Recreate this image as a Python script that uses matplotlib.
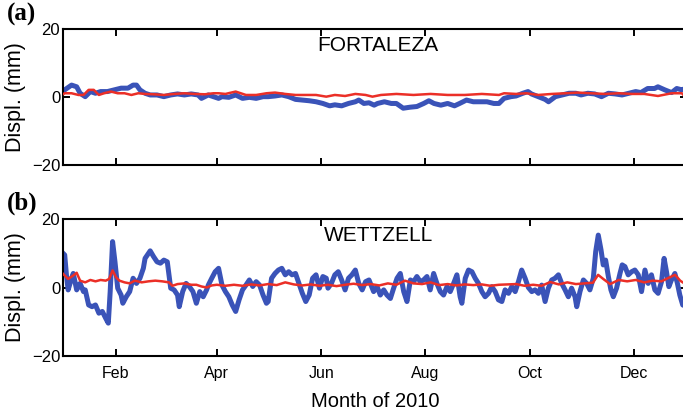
import numpy as np
import matplotlib
matplotlib.use("Agg")
import matplotlib.pyplot as plt

# ---------------- data (day of year 2010, displacement in mm) ----------------
fort_blue_day = [0, 1, 5, 8, 10, 13, 16, 19, 22, 26, 30, 34, 38, 41, 43, 45, 48, 51, 55, 59, 63, 67, 71, 75, 79, 81, 85, 88, 91,
                 93, 97, 101, 105, 109, 113, 117, 120, 124, 128, 132, 136, 140, 144, 148, 152, 156, 159, 163, 167, 171, 173, 176, 179, 182,
                 184, 188, 192, 195, 199, 203, 207, 211, 214, 217, 221, 225, 229, 232, 236, 240, 244, 248, 252, 255, 258, 262, 265, 269, 272,
                 274, 278, 282, 284, 288, 292, 296, 300, 303, 307, 311, 315, 319, 323, 327, 331, 335, 338, 342, 346, 348, 352, 356, 359, 362, 364]
fort_blue_val = [1.5, 2.1, 3.5, 3.0, 1.1, 0.1, 1.6, 1.1, 1.6, 1.6, 2.1, 2.6, 2.6, 3.5, 3.5, 2.1, 1.1, 0.6, 0.6, 0.1, 0.6, 0.9, 0.6, 0.9, 0.6, -0.4, 0.6, 0.1, -0.4,
                 0.1, -0.1, 0.6, -0.4, -0.1, -0.4, 0.1, 0.1, 0.3, 0.6, 0.1, -0.7, -0.9, -1.1, -1.4, -1.9, -2.6, -2.3, -2.6, -1.9, -1.4, -0.9, -1.9, -1.7, -2.4,
                 -1.9, -1.4, -1.9, -1.9, -3.3, -3.0, -2.8, -1.9, -1.1, -1.9, -2.4, -1.9, -2.6, -1.9, -0.9, -1.4, -1.4, -1.4, -1.9, -1.9, -0.4, 0.1, 0.3, 1.1, 1.6,
                 0.9, 0.1, -0.7, -1.4, 0.1, 0.6, 1.1, 1.1, 0.6, 1.1, 0.9, 0.1, 1.1, 0.9, 0.6, 1.1, 1.6, 1.3, 2.5, 2.5, 3.0, 2.1, 1.3, 2.5, 2.1, 2.5]

fort_red_day = [0, 1, 5, 9, 12, 15, 18, 21, 24, 28, 32, 36, 40, 44, 48, 53, 59, 65, 71, 77, 83, 88, 91,
                95, 101, 107, 113, 119, 124, 130, 136, 142, 148, 154, 159, 165, 171, 177, 181,
                186, 195, 205, 215, 225, 235, 245, 255, 258, 265, 271,
                278, 286, 294, 301, 309, 317, 325, 333, 340, 348, 356, 362, 364]
fort_red_val = [0.8, 1.1, 1.1, 0.6, 0.6, 2.1, 2.1, 0.6, 1.1, 1.6, 1.1, 1.1, 0.6, 1.1, 0.9, 0.8, 0.6, 0.9, 1.1, 0.9, 0.8, 1.1, 1.1,
                0.9, 1.6, 0.6, 0.6, 1.1, 1.3, 0.9, 0.6, 0.6, 0.6, 0.1, 0.6, 0.3, 0.9, 0.6, 0.1,
                0.6, 0.9, 0.6, 0.9, 0.6, 0.6, 0.9, 0.6, 1.1, 0.9, 1.1,
                0.6, 0.9, 1.1, 1.3, 1.1, 0.9, 1.1, 0.9, 0.9, 0.3, 1.1, 1.1, 0.0]

wett_blue_day = [0, 1, 2, 3, 5, 6, 8, 10, 12, 13, 15, 17, 19, 21, 23, 25, 26.5, 27.6, 29, 30.4, 32, 34, 35, 37, 39, 41, 43, 45, 47, 48, 51, 53, 55, 57, 59, 61,
                 63, 65, 67, 68, 70, 72, 74, 76, 78, 80, 82, 84, 85, 87, 89, 91,
                 93, 95, 97, 99, 101, 103, 105, 107, 109, 111, 113, 115, 117, 119, 120, 122, 124, 126, 128, 130, 132, 134, 136, 138, 140, 142, 144,
                 146, 148, 150, 152, 154, 155, 157, 159, 161, 163, 165, 167, 169, 171, 173, 175, 177, 179,
                 181.7, 183.7, 185.6, 187.6, 189.5, 191.5, 193.4, 195.4, 197.3, 199.3, 201.2, 203.2, 205.1, 207, 209, 210.9, 212.9, 214.8, 216.8,
                 218.7, 220.7, 222.6, 224.6, 226.5, 228.5, 230.4, 232.3, 233.3, 235.3, 237.2, 239.2, 241.1, 243, 245, 246.9, 248.9, 250.8, 252.8,
                 254.7, 256.7, 258.6, 260.6, 262.5, 264.5, 266.4, 268.3, 270.3, 272.2,
                 274.2, 276.1, 278.1, 280, 282, 283.9, 285.9, 287.8, 289.8, 291.7, 293.7, 295.6, 297.5, 299.5, 300.5, 302.4, 304.4, 306.3, 308.2,
                 310.2, 311.6, 313.1, 314.7, 316, 317.4, 319, 320.5, 321.9, 323.8, 325.8, 327.1, 328.7, 330.6, 332.6, 334.5, 336.5, 338.4, 340.4,
                 342.3, 344.2, 346.2, 348.1, 350.1, 351.6, 353, 354.4, 355.9, 357.9, 359.4, 360.8, 362.5, 364.5]
wett_blue_val = [10.0, 9.5, 3.7, -0.7, 2.7, 4.1, -0.7, 1.2, -1.2, -0.7, -5.1, -5.6, -5.1, -7.5, -7.0, -9.0, -10.4, -1.2, 13.4, 7.5, -0.2, -2.2, -4.6, -2.7, -1.2, 2.7, 1.2, 2.7, 5.6, 8.5, 10.7, 9.0, 7.5, 7.1, 8.0, 7.5,
                 -0.2, -0.7, -2.2, -5.6, -1.2, 1.2, 0.2, -1.2, -4.6, -1.2, -2.7, -0.7, 0.7, 2.7, 4.6, 5.6,
                 0.7, -1.2, -2.7, -5.1, -7.0, -3.6, -0.7, 0.7, 2.2, 0.3, 1.7, 0.7, -2.2, -4.6, -4.1, 2.7, 4.1, 5.1, 5.6, 3.7, 4.6, 3.7, 4.1, 1.2, -1.7, -4.1, -2.2,
                 2.7, 3.7, -0.2, 3.2, 2.7, -0.2, 1.2, 3.7, 4.6, 2.2, -0.7, 2.7, 3.7, 5.1, 1.2, -0.7, 1.7, 2.2,
                 -1.2, 0.25, -2.2, -0.7, -2.2, -3.2, -0.2, 2.7, 4.1, -1.2, -4.1, 2.2, 1.7, 3.2, 1.7, 2.2, 3.2, -0.7, 4.1,
                 1.2, -1.2, -2.2, 0.25, -1.2, 1.2, 3.7, -2.7, -4.6, 2.7, 5.1, 4.6, 2.7, 1.2, -1.2, -2.7, -1.7, 0.25, -1.2,
                 -3.6, -4.1, -0.7, -1.7, 0.25, -1.2, 1.7, 5.1, 2.7, 0.0,
                 -1.2, -0.7, -1.7, 0.7, -4.1, -0.2, 2.2, 2.7, 3.7, 1.2, -0.7, -2.7, -0.2, -2.7, -5.6, -1.2, 2.2, 1.2, -0.7,
                 2.7, 10.5, 15.3, 11.0, 6.6, 8.0, 3.2, -0.7, -2.7, -0.2, 4.1, 6.6, 6.1, 3.7, 4.6, 5.1, 3.7, -1.2, 5.1,
                 1.2, 3.7, -0.7, -1.7, 1.7, 8.5, 4.6, 0.25, 2.2, 4.1, 1.2, -2.2, -5.1, -5.5]

wett_red_day = [0, 3, 6, 8, 10, 13, 16, 19, 22, 25, 27, 29, 31, 33, 36, 39, 42, 46, 50, 54, 58, 62, 64, 67, 71, 75, 78, 81, 84, 87, 90,
                95, 100, 105, 110, 115, 120, 125, 130, 135, 140, 145, 150, 155, 160, 165, 170, 175, 180, 185, 190, 195, 200, 205, 210,
                215, 220, 225, 230, 235, 240, 245, 250, 255, 260, 265, 270, 275, 280, 285, 290, 295, 300, 305, 310, 313, 316, 320,
                325, 330, 335, 340, 345, 350, 355, 358, 361, 364]
wett_red_val = [4.0, 2.5, 3.5, 4.3, 2.0, 1.5, 2.2, 1.8, 2.2, 2.0, 2.5, 5.0, 3.0, 2.0, 1.5, 1.2, 2.0, 1.5, 1.8, 2.0, 1.8, 1.5, 0.5, 1.0, 1.2, 0.8, 0.8, 0.3, 0.0, 0.6, 0.8,
                0.5, 0.8, 0.5, 0.9, 0.6, 1.0, 0.7, 1.5, 0.9, 0.6, 0.9, 0.5, 0.8, 0.4, 0.8, 1.1, 0.7, 1.0, 0.6, 1.2, 0.8, 2.0, 1.2, 1.0,
                1.5, 0.7, 1.0, 0.6, 0.9, 0.7, 0.9, 0.5, 0.8, 0.9, 1.0, 0.5, 0.8, 0.5, 1.6, 0.9, 1.5, 1.0, 1.2, 1.4, 3.7, 2.5, 1.0,
                2.2, 1.8, 2.2, 1.5, 2.0, 1.8, 3.0, 3.7, 2.0, 1.0]

month_ticks = ["2010-02-01", "2010-04-01", "2010-06-01", "2010-08-01", "2010-10-01", "2010-12-01"]
month_labels = ["Feb", "Apr", "Jun", "Aug", "Oct", "Dec"]
stations = ["FORTALEZA", "WETTZELL"]
panel_tags = ["(a)", "(b)"]

# ---------------- plotting ----------------
BLUE = "#3a53b8"
RED = "#eb2f27"
start = np.datetime64("2010-01-01")


def to_dates(days):
    return start + (np.array(days) * 24 * 3600).astype("timedelta64[s]")


fig = plt.figure(figsize=(6.83, 4.12), dpi=100)
plt.rcParams["font.family"] = ["Liberation Sans", "DejaVu Sans"]

ax_a = fig.add_axes([63 / 683, 1 - 165 / 412, 624 / 683, 136 / 412])
ax_b = fig.add_axes([63 / 683, 1 - 356 / 412, 624 / 683, 137 / 412])

series = [
    (ax_a, fort_blue_day, fort_blue_val, fort_red_day, fort_red_val),
    (ax_b, wett_blue_day, wett_blue_val, wett_red_day, wett_red_val),
]
tick_dates = np.array(month_ticks, dtype="datetime64[D]")

for i, (ax, bd, bv, rd, rv) in enumerate(series):
    ax.plot(to_dates(bd), bv, color=BLUE, lw=3.6, solid_joinstyle="round", zorder=2)
    ax.plot(to_dates(rd), rv, color=RED, lw=1.8, zorder=3)
    ax.set_xlim(np.datetime64("2010-01-01"), np.datetime64("2011-01-01"))
    ax.set_ylim(-20, 20)
    ax.set_yticks([-20, 0, 20])
    ax.set_xticks(tick_dates)
    ax.tick_params(direction="in", length=5, width=1.4, top=True, right=True,
                   labelsize=12, pad=2)
    ax.tick_params(axis="x", labelsize=11.5, pad=7)
    for sp in ax.spines.values():
        sp.set_linewidth(1.5)
    ax.set_ylabel("Displ. (mm)", fontsize=15.5, labelpad=4)
    ax.text(0.505, 0.88, stations[i], transform=ax.transAxes, ha="center", va="center",
            fontsize=15)

ax_a.set_xticklabels([])
ax_b.set_xticklabels(month_labels)
ax_b.set_xlabel("Month of 2010", fontsize=14.5, labelpad=8)

fig.text(7 / 683, 1 - 14 / 412, panel_tags[0], fontsize=18, fontweight="bold",
         family="Liberation Serif", va="center", ha="left")
fig.text(7 / 683, 1 - 203 / 412, panel_tags[1], fontsize=18, fontweight="bold",
         family="Liberation Serif", va="center", ha="left")

fig.savefig("out.png", dpi=100)
